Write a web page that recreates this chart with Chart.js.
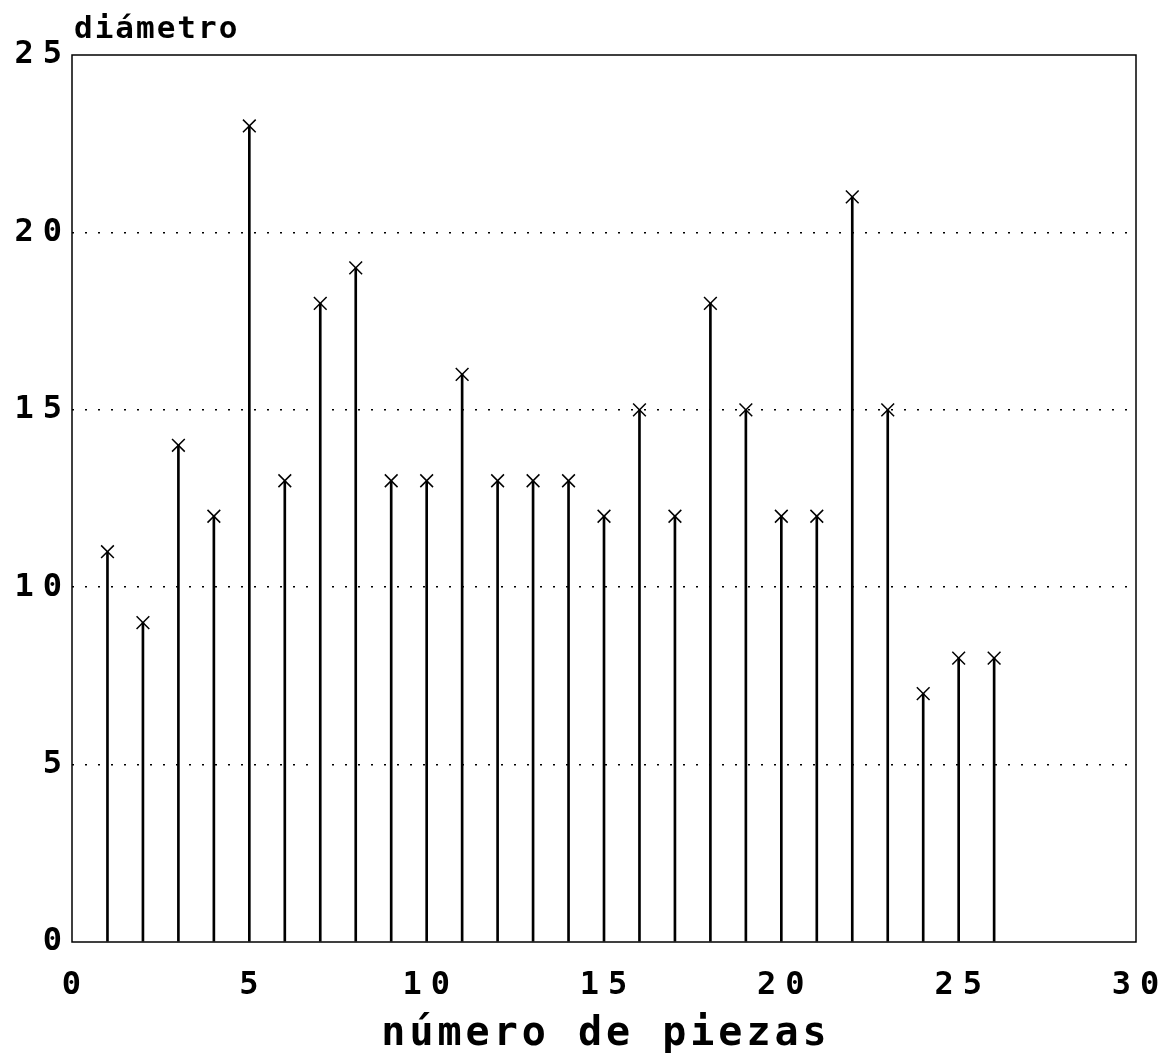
<!DOCTYPE html>
<html>
<head>
<meta charset="utf-8">
<script src="https://cdn.jsdelivr.net/npm/chart.js@4.4.1/dist/chart.umd.min.js"></script>
<style>
  html, body { margin: 0; padding: 0; background: #ffffff; }
  canvas { display: block; }
</style>
</head>
<body>
<canvas id="c" width="1166" height="1054"></canvas>
<script>
// Piece number (x) and measured diameter (y)
const piezas = [1, 2, 3, 4, 5, 6, 7, 8, 9, 10, 11, 12, 13, 14, 15, 16, 17, 18, 19, 20, 21, 22, 23, 24, 25, 26];
const diametros = [11, 9, 14, 12, 23, 13, 18, 19, 13, 13, 16, 13, 13, 13, 12, 15, 12, 18, 15, 12, 12, 21, 15, 7, 8, 8];
const xTicks = [0, 5, 10, 15, 20, 25, 30];
const yTicks = [0, 5, 10, 15, 20, 25];
const tituloX = 'número de piezas';
const tituloY = 'diámetro';

const puntos = piezas.map((p, i) => ({ x: p, y: diametros[i] }));

const FONT = '"DejaVu Sans Mono", "Liberation Mono", monospace';

// Frame around the plot area plus the two axis captions
const marco = {
  id: 'marco',
  beforeDraw(chart) {
    chart.ctx.letterSpacing = '9px';
  },
  afterDraw(chart) {
    const { ctx, chartArea: a } = chart;
    ctx.save();
    ctx.strokeStyle = '#000';
    ctx.lineWidth = 1.5;
    ctx.strokeRect(a.left, a.top, a.right - a.left, a.bottom - a.top);

    ctx.fillStyle = '#000';
    ctx.textBaseline = 'alphabetic';
    ctx.font = 'bold 31px ' + FONT;
    ctx.letterSpacing = '2px';
    ctx.textAlign = 'left';
    ctx.fillText(tituloY, a.left + 2, 38);

    ctx.font = 'bold 40px ' + FONT;
    ctx.letterSpacing = '4px';
    ctx.textAlign = 'center';
    ctx.fillText(tituloX, (a.left + a.right) / 2 + 2, 1045);
    ctx.restore();
  }
};

new Chart(document.getElementById('c'), {
  type: 'bar',
  data: {
    datasets: [
      {
        type: 'bar',
        data: puntos,
        backgroundColor: '#000',
        borderWidth: 0,
        barThickness: 2
      },
      {
        type: 'scatter',
        data: puntos,
        pointStyle: 'crossRot',
        pointRadius: 9,
        pointBorderWidth: 1.5,
        borderColor: '#000',
        backgroundColor: '#000'
      }
    ]
  },
  options: {
    responsive: false,
    devicePixelRatio: 1,
    animation: false,
    layout: { padding: { top: 55, right: 30, left: 0, bottom: 0 } },
    plugins: {
      legend: { display: false },
      tooltip: { enabled: false }
    },
    scales: {
      x: {
        type: 'linear',
        min: 0,
        max: 30,
        offset: false,
        afterBuildTicks(scale) { scale.ticks = xTicks.map(v => ({ value: v })); },
        afterFit(scale) {
          scale.height = 112;
          scale.paddingLeft = 0;
          scale.paddingRight = 0;
        },
        grid: { display: false, drawTicks: false },
        border: { display: false },
        ticks: {
          color: '#000',
          padding: 24,
          labelOffset: 4,
          maxRotation: 0,
          font: { family: FONT, size: 32, weight: 'bold' }
        }
      },
      y: {
        type: 'linear',
        min: 0,
        max: 25,
        afterBuildTicks(scale) { scale.ticks = yTicks.map(v => ({ value: v })); },
        afterFit(scale) {
          scale.width = 72;
          scale.paddingTop = 0;
          scale.paddingBottom = 0;
        },
        grid: {
          drawTicks: false,
          color: ctx => (ctx.tick && (ctx.tick.value === 0 || ctx.tick.value === 25)) ? 'rgba(0,0,0,0)' : '#000',
          lineWidth: 1.5
        },
        border: { display: false, dash: [2, 11] },
        ticks: {
          color: '#000',
          padding: 1,
          font: { family: FONT, size: 32, weight: 'bold' }
        }
      }
    }
  },
  plugins: [marco]
});
</script>
</body>
</html>
